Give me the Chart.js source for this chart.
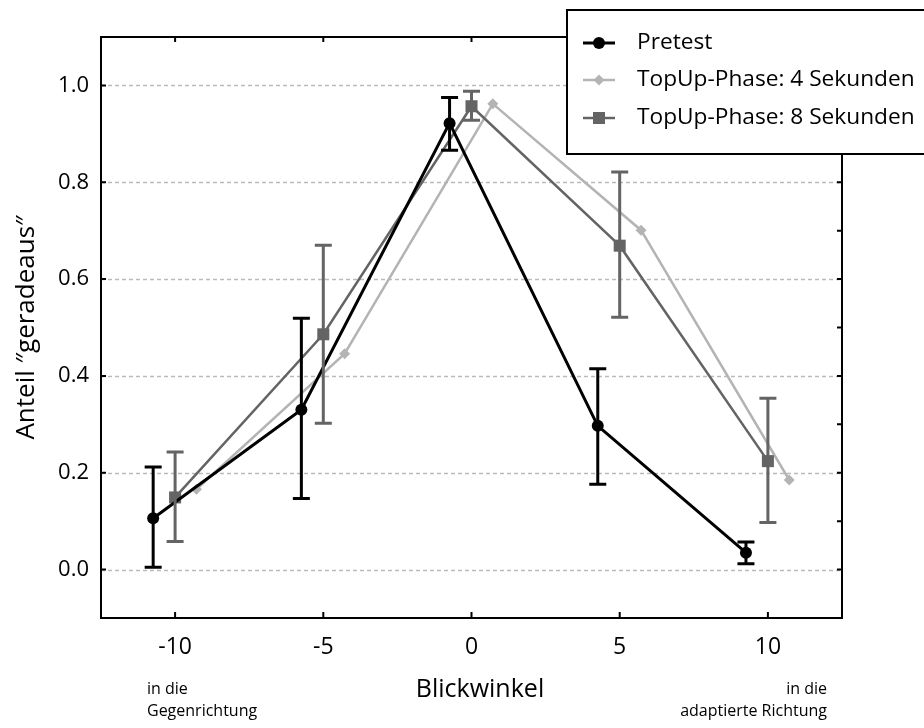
<!DOCTYPE html>
<html>
<head>
<meta charset="utf-8">
<script src="https://cdn.jsdelivr.net/npm/chart.js@4.4.0/dist/chart.umd.min.js"></script>
<style>
  html, body { margin: 0; padding: 0; background: #fff; }
  #wrap { width: 924px; height: 728px; position: relative; }
</style>
</head>
<body>
<div id="wrap"><canvas id="c" width="924" height="728"></canvas></div>
<script>
// Blickwinkel (deg) and proportion of "geradeaus" answers per condition
const angles = [-10, -5, 0, 5, 10];
const seriesNames = ['Pretest', 'TopUp-Phase: 4 Sekunden', 'TopUp-Phase: 8 Sekunden'];

const pretestY  = [0.106, 0.330, 0.922, 0.297, 0.035];
const pretestLo = [0.005, 0.147, 0.866, 0.176, 0.012];
const pretestHi = [0.212, 0.519, 0.975, 0.415, 0.057];

const topup4Y   = [0.166, 0.446, 0.962, 0.701, 0.185];

const topup8Y   = [0.149, 0.486, 0.957, 0.669, 0.224];
const topup8Lo  = [0.058, 0.302, 0.928, 0.521, 0.097];
const topup8Hi  = [0.243, 0.670, 0.988, 0.821, 0.354];

const xTicks = [-10, -5, 0, 5, 10];
const yTicks = [0, 0.2, 0.4, 0.6, 0.8, 1.0];
const yMinorTicks = [0, 0.1, 0.2, 0.3, 0.4, 0.5, 0.6, 0.7, 0.8, 0.9, 1.0];

// groups are shifted sideways so markers and bars don't overlap
const SHIFT = { pretest: -0.74, topup4: 0.72, topup8: 0 };

const FONT = '"Open Sans", "Noto Sans", sans-serif';
const C_PRE = '#000000';
const C_T4 = '#b4b4b4';
const C_T8 = '#646464';

const toPoints = (ys, shift) => ys.map((v, i) => ({ x: angles[i] + shift, y: v }));

const errorBars = [
  { shift: SHIFT.pretest, lo: pretestLo, hi: pretestHi, color: C_PRE, width: 3 },
  { shift: SHIFT.topup8, lo: topup8Lo, hi: topup8Hi, color: C_T8, width: 3 }
];

const decor = {
  id: 'decor',
  beforeDatasetsDraw(chart) {
    const { ctx, chartArea: a, scales: { y } } = chart;
    ctx.save();
    ctx.strokeStyle = '#bababa';
    ctx.lineWidth = 1.5;
    ctx.setLineDash([4, 3]);
    yTicks.forEach(v => {
      const py = Math.round(y.getPixelForValue(v)) + 0.5;
      ctx.beginPath();
      ctx.moveTo(a.left, py);
      ctx.lineTo(a.right, py);
      ctx.stroke();
    });
    ctx.restore();
  },
  afterDatasetsDraw(chart) {
    const { ctx, scales: { x, y } } = chart;
    ctx.save();
    errorBars.forEach(bar => {
      ctx.strokeStyle = bar.color;
      ctx.lineWidth = bar.width;
      angles.forEach((ang, i) => {
        const px = x.getPixelForValue(ang + bar.shift);
        const pTop = y.getPixelForValue(bar.hi[i]);
        const pBot = y.getPixelForValue(bar.lo[i]);
        const cap = 8.5;
        ctx.beginPath();
        ctx.moveTo(px, pTop); ctx.lineTo(px, pBot);
        ctx.moveTo(px - cap, pTop); ctx.lineTo(px + cap, pTop);
        ctx.moveTo(px - cap, pBot); ctx.lineTo(px + cap, pBot);
        ctx.stroke();
      });
    });
    ctx.restore();
  },
  afterDraw(chart) {
    const { ctx, chartArea: a, scales: { x, y } } = chart;
    ctx.save();
    // plot frame
    ctx.strokeStyle = '#000';
    ctx.lineWidth = 2;
    ctx.strokeRect(a.left, a.top, a.right - a.left, a.bottom - a.top);
    // inward tick marks
    ctx.beginPath();
    yTicks.forEach(v => {
      const py = y.getPixelForValue(v);
      ctx.moveTo(a.left, py); ctx.lineTo(a.left + 5, py);
    });
    yMinorTicks.forEach(v => {
      const py = y.getPixelForValue(v);
      ctx.moveTo(a.right, py); ctx.lineTo(a.right - 5, py);
    });
    xTicks.forEach(v => {
      const px = x.getPixelForValue(v);
      ctx.moveTo(px, a.bottom); ctx.lineTo(px, a.bottom - 6);
      ctx.moveTo(px, a.top); ctx.lineTo(px, a.top + 5);
    });
    ctx.stroke();

    // axis caption and direction notes
    ctx.fillStyle = '#000';
    ctx.textBaseline = 'middle';
    ctx.textAlign = 'center';
    ctx.font = '25px ' + FONT;
    ctx.fillText('Blickwinkel', 480, 690);
    ctx.font = '16px ' + FONT;
    ctx.textAlign = 'left';
    ctx.fillText('in die', 147, 689);
    ctx.fillText('Gegenrichtung', 147, 711);
    ctx.textAlign = 'right';
    ctx.fillText('in die', 827, 689);
    ctx.fillText('adaptierte Richtung', 827, 711);

    // legend box
    const bx = 567, by = 10, bw = 400, bh = 144;
    ctx.fillStyle = '#fff';
    ctx.fillRect(bx, by, bw, bh);
    ctx.lineWidth = 2;
    ctx.strokeStyle = '#000';
    ctx.strokeRect(bx, by, bw, bh);
    const rows = [43, 80, 118];
    chart.data.datasets.forEach((ds, i) => {
      const ry = rows[i];
      ctx.strokeStyle = ds.borderColor;
      ctx.lineWidth = ds.borderWidth;
      ctx.beginPath();
      ctx.moveTo(583, ry); ctx.lineTo(615, ry);
      ctx.stroke();
      ctx.fillStyle = ds.pointBackgroundColor;
      Chart.helpers.drawPoint(ctx, {
        pointStyle: ds.pointStyle, radius: ds.pointRadius, rotation: 0, borderWidth: 0
      }, 599, ry);
      ctx.fillStyle = '#000';
      ctx.textAlign = 'left';
      ctx.textBaseline = 'middle';
      ctx.font = '22.7px ' + FONT;
      ctx.fillText(ds.label, 637, ry);
    });
    ctx.restore();
  }
};

new Chart(document.getElementById('c'), {
  type: 'line',
  data: {
    datasets: [
      {
        label: seriesNames[0], data: toPoints(pretestY, SHIFT.pretest),
        borderColor: C_PRE, backgroundColor: C_PRE, pointBackgroundColor: C_PRE,
        borderWidth: 3, pointStyle: 'circle', pointRadius: 6, pointBorderWidth: 0, order: 0
      },
      {
        label: seriesNames[1], data: toPoints(topup4Y, SHIFT.topup4),
        borderColor: C_T4, backgroundColor: C_T4, pointBackgroundColor: C_T4,
        borderWidth: 2.5, pointStyle: 'rectRot', pointRadius: 5.5, pointBorderWidth: 0, order: 2
      },
      {
        label: seriesNames[2], data: toPoints(topup8Y, SHIFT.topup8),
        borderColor: C_T8, backgroundColor: C_T8, pointBackgroundColor: C_T8,
        borderWidth: 2.5, pointStyle: 'rect', pointRadius: 8.5, pointBorderWidth: 0, order: 1
      }
    ]
  },
  options: {
    responsive: false,
    animation: false,
    events: [],
    layout: { padding: { top: 37, right: 82, left: 0, bottom: 0 } },
    plugins: { legend: { display: false }, tooltip: { enabled: false } },
    elements: { line: { tension: 0 } },
    scales: {
      x: {
        type: 'linear', min: -12.5, max: 12.5,
        afterBuildTicks: s => { s.ticks = xTicks.map(v => ({ value: v })); },
        afterFit: s => { s.height = 110; },
        grid: { display: false, drawTicks: false },
        border: { display: false },
        ticks: { color: '#000', font: { family: FONT, size: 23 }, padding: 16,
                 callback: v => String(v), maxRotation: 0 }
      },
      y: {
        type: 'linear', min: -0.1, max: 1.1,
        afterBuildTicks: s => { s.ticks = yTicks.map(v => ({ value: v })); },
        afterFit: s => { s.width = 101; },
        grid: { display: false, drawTicks: false },
        border: { display: false },
        ticks: { color: '#000', font: { family: FONT, size: 22 }, padding: 12,
                 callback: v => v.toFixed(1) },
        title: { display: true, text: 'Anteil \u2033geradeaus\u2033', color: '#000',
                 font: { family: FONT, size: 26 }, padding: { top: 11, bottom: 0 } }
      }
    }
  },
  plugins: [decor]
});
</script>
</body>
</html>
